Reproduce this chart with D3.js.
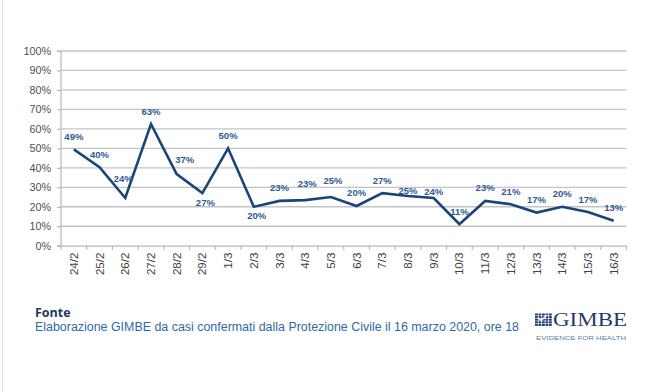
<!DOCTYPE html>
<html><head><meta charset="utf-8">
<script src="https://cdn.jsdelivr.net/npm/d3@7"></script>
<style>html,body{margin:0;padding:0;background:#fff;}svg{display:block;}</style>
</head><body>
<svg id="c" width="652" height="392"></svg>
<script>
const categories = ["24/2","25/2","26/2","27/2","28/2","29/2","1/3","2/3","3/3","4/3","5/3","6/3","7/3","8/3","9/3","10/3","11/3","12/3","13/3","14/3","15/3","16/3"];
const values = [49.5,40.3,24.5,62.5,36.8,27,50,20,23,23.4,25,20.4,27,25.5,24.5,11,23,21.3,17,20,17.3,12.8];
const labels = ["49%","40%","24%","63%","37%","27%","50%","20%","23%","23%","25%","20%","27%","25%","24%","11%","23%","21%","17%","20%","17%","13%"];
const labelPos = ["above","above","left","above","right","below","above","below","above","high","high","above","above","near","near","above","above","above","above","above","above","above"];
const yTicks = [0,10,20,30,40,50,60,70,80,90,100];
const sourceTitle = "Fonte";
const sourceText = "Elaborazione GIMBE da casi confermati dalla Protezione Civile il 16 marzo 2020, ore 18";

const svg = d3.select("#c");
const m = {l:61, r:626.5, t:51, b:245.7};
const x = d3.scaleBand().domain(categories).range([m.l, m.r]);
const y = d3.scaleLinear().domain([0,100]).range([m.b, m.t]);
const cx = d => x(d) + x.bandwidth()/2;

// frame line at left
svg.append("line").attr("x1",2.5).attr("x2",2.5).attr("y1",0).attr("y2",392).attr("stroke","#e2e2e2").attr("stroke-width",1);

// gridlines
svg.append("g").selectAll("line").data(yTicks.filter(v=>v>0)).join("line")
  .attr("x1", m.l).attr("x2", m.r).attr("y1", d=>y(d)).attr("y2", d=>y(d))
  .attr("stroke","#c4c4c4").attr("stroke-width",1.3);

// y axis
const ya = svg.append("g").attr("transform",`translate(${m.l},0)`)
  .call(d3.axisLeft(y).tickValues(yTicks).tickFormat(d=>d+"%").tickSize(4).tickPadding(6));
ya.select(".domain").attr("stroke","#b8b8b8").attr("stroke-width",1.2).attr("d",`M-4,${m.t}H0V${m.b}H-4`);
ya.selectAll(".tick line").attr("stroke","#b8b8b8").attr("stroke-width",1.2);
ya.selectAll(".tick text").attr("font-family","'Liberation Sans', Arial, sans-serif").attr("font-size",10.8).attr("fill","#505050");

// x axis
const xa = svg.append("g").attr("transform",`translate(0,${m.b})`)
  .call(d3.axisBottom(x).tickSize(0).tickPadding(0));
xa.select(".domain").attr("stroke","#b8b8b8").attr("stroke-width",1.2);
xa.selectAll(".tick text")
  .attr("font-family","'Liberation Sans', Arial, sans-serif").attr("font-size",11.5).attr("fill","#404040")
  .attr("transform","rotate(-90)").attr("text-anchor","end").attr("dy","0.35em").attr("x",-7).attr("y",0);
// separator ticks between categories
svg.append("g").selectAll("line").data(categories.concat(["_end"])).join("line")
  .attr("x1",(d,i)=> m.l + i*x.step()).attr("x2",(d,i)=> m.l + i*x.step())
  .attr("y1", m.b).attr("y2", m.b+4).attr("stroke","#b8b8b8").attr("stroke-width",1.2);

// line
const line = d3.line().x((d,i)=>cx(categories[i])).y(d=>y(d));
svg.append("path").datum(values).attr("d",line).attr("fill","none")
  .attr("stroke","#1b4479").attr("stroke-width",2.6).attr("stroke-linejoin","miter");

// labels
const off = {above:[0,-9.5], high:[2,-13], near:[0,-2.5], below:[3,12.5], left:[-2,-16], right:[8,-11]};
svg.append("g").selectAll("text").data(values).join("text")
  .attr("x",(d,i)=>cx(categories[i]) + off[labelPos[i]][0])
  .attr("y",(d,i)=>y(d) + off[labelPos[i]][1])
  .attr("text-anchor","middle")
  .attr("font-family","'Liberation Sans', Arial, sans-serif").attr("font-weight","bold")
  .attr("font-size",9.5).attr("fill","#2e5a93")
  .text((d,i)=>labels[i]);

// footer
svg.append("text").attr("x",35).attr("y",317).attr("font-family","'Open Sans', 'Liberation Sans', sans-serif")
  .attr("font-weight","bold").attr("font-size",12.5).attr("fill","#1f3864").text(sourceTitle);
svg.append("text").attr("x",35).attr("y",331).attr("font-family","'Liberation Sans', Arial, sans-serif")
  .attr("font-size",12.5).attr("fill","#2e6aa8").attr("textLength",484).attr("lengthAdjust","spacingAndGlyphs").text(sourceText);

// logo
const logo = svg.append("g");
const cells = d3.range(25);
logo.selectAll("rect").data(cells).join("rect")
  .attr("x", d=>535 + (d%5)*3.5).attr("y", d=>313.5 + Math.floor(d/5)*2.6)
  .attr("width",2.8).attr("height",2).attr("fill","#1f3a6e");
logo.append("path").attr("d","M538,317.5 L541,320.5 L547,315").attr("stroke","#fff").attr("stroke-width",1.4).attr("fill","none");
logo.append("text").attr("x",553).attr("y",326).attr("font-family","'Liberation Serif', 'Times New Roman', serif")
  .attr("font-size",18.5).attr("fill","#1f3a6e").attr("textLength",74).attr("lengthAdjust","spacingAndGlyphs").text("GIMBE");
logo.append("text").attr("x",536).attr("y",339.5).attr("font-family","'Liberation Sans', Arial, sans-serif")
  .attr("font-size",6).attr("fill","#5b7ea8").attr("textLength",90).attr("lengthAdjust","spacingAndGlyphs").text("EVIDENCE FOR HEALTH");
</script>
</body></html>
